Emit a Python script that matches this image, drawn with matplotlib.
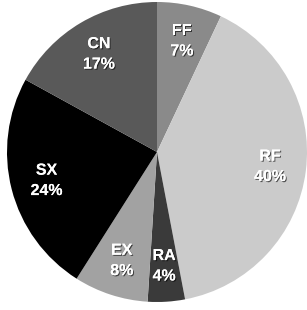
import numpy as np
import matplotlib
matplotlib.use("Agg")
import matplotlib.pyplot as plt
import matplotlib.patheffects as pe

labels = ["FF", "RF", "RA", "EX", "SX", "CN"]
shares = [7, 40, 4, 8, 24, 17]
colors = ["#8a8a8a", "#cbcbcb", "#3a3a3a", "#a2a2a2", "#000000", "#595959"]


def main():
    fig = plt.figure(figsize=(3.07, 3.10), dpi=100)
    fig.patch.set_facecolor("white")
    cx, cy, r = 157, 152, 150
    ax = fig.add_axes([(cx - r) / 307, (310 - cy - r) / 310, 2 * r / 307, 2 * r / 310])

    wedges, _ = ax.pie(
        shares,
        colors=colors,
        startangle=90,
        counterclock=False,
        wedgeprops={"linewidth": 0},
    )
    ax.set_aspect("auto")
    ax.set_xlim(-1, 1)
    ax.set_ylim(-1, 1)
    ax.axis("off")

    shadow = [pe.withSimplePatchShadow(offset=(0.8, -0.8), shadow_rgbFace="black", alpha=0.6), pe.Normal()]
    for w, lab, val in zip(wedges, labels, shares):
        ang = np.deg2rad((w.theta1 + w.theta2) / 2)
        ax.text(
            0.76 * np.cos(ang), 0.76 * np.sin(ang), f"{lab}\n{val}%",
            ha="center", va="center", color="white", fontsize=11.5,
            fontweight="bold", family="Liberation Sans", linespacing=1.45,
            path_effects=shadow,
        )

    fig.savefig("out.png", dpi=100, facecolor="white")
    plt.close(fig)


if __name__ == "__main__":
    main()
